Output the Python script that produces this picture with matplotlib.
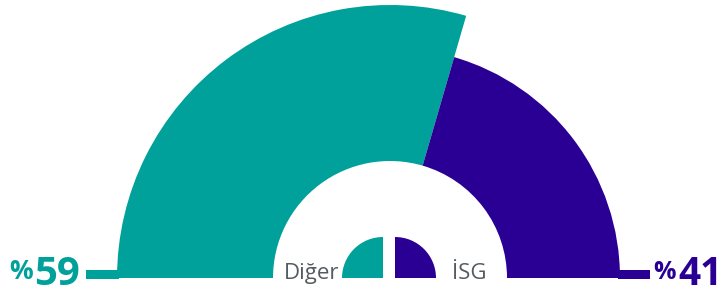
import matplotlib.pyplot as plt
from matplotlib.patches import Wedge, Rectangle

labels = ['Diğer', 'İSG']
shares = [59, 41]
colors = ['#00A19A', '#2A0094']
outer_r = [273, 230]   # el segmento mayor sobresale más

fig = plt.figure(figsize=(7.25, 2.95), dpi=100)
ax = fig.add_axes([0, 0, 1, 1])
ax.set_xlim(0, 725)
ax.set_ylim(0, 295)
ax.set_aspect('equal')
ax.axis('off')

cx, cy = 390, 17
inner_r = 117

# media dona: de izquierda (180°) a derecha (0°)
start = 180
for share, col, r in zip(shares, colors, outer_r):
    sweep = share / sum(shares) * 180
    ax.add_patch(Wedge((cx, cy), r, start - sweep, start, width=r - inner_r,
                       facecolor=col, edgecolor='none'))
    start -= sweep

# barras base
ax.add_patch(Rectangle((86, 16), cx - outer_r[0] - 86 + 2, 9, color=colors[0], lw=0))
ax.add_patch(Rectangle((cx + outer_r[1] - 2, 16), 650 - (cx + outer_r[1]) + 2, 9,
                       color=colors[1], lw=0))

# porcentajes
ax.text(80, 10, str(shares[0]), color=colors[0], fontsize=29, fontweight='bold',
        family='Open Sans', ha='right', va='baseline')
ax.text(33, 16, '%', color=colors[0], fontsize=19, fontweight='bold',
        family='Open Sans', ha='right', va='baseline')
ax.text(723, 10, str(shares[1]), color=colors[1], fontsize=28, fontweight='bold',
        family='Open Sans', ha='right', va='baseline')
ax.text(676, 16, '%', color=colors[1], fontsize=18, fontweight='bold',
        family='Open Sans', ha='right', va='baseline')

# leyenda central
ax.add_patch(Wedge((cx - 7, cy), 41, 90, 180, facecolor=colors[0], edgecolor='none'))
ax.add_patch(Wedge((cx + 5, cy), 41, 0, 90, facecolor=colors[1], edgecolor='none'))
ax.text(339, 16, labels[0], color='#555b60', fontsize=16, family='Open Sans',
        ha='right', va='baseline')
ax.text(452, 16, labels[1], color='#555b60', fontsize=16, family='Open Sans',
        ha='left', va='baseline')

fig.savefig('out.png', dpi=100)
